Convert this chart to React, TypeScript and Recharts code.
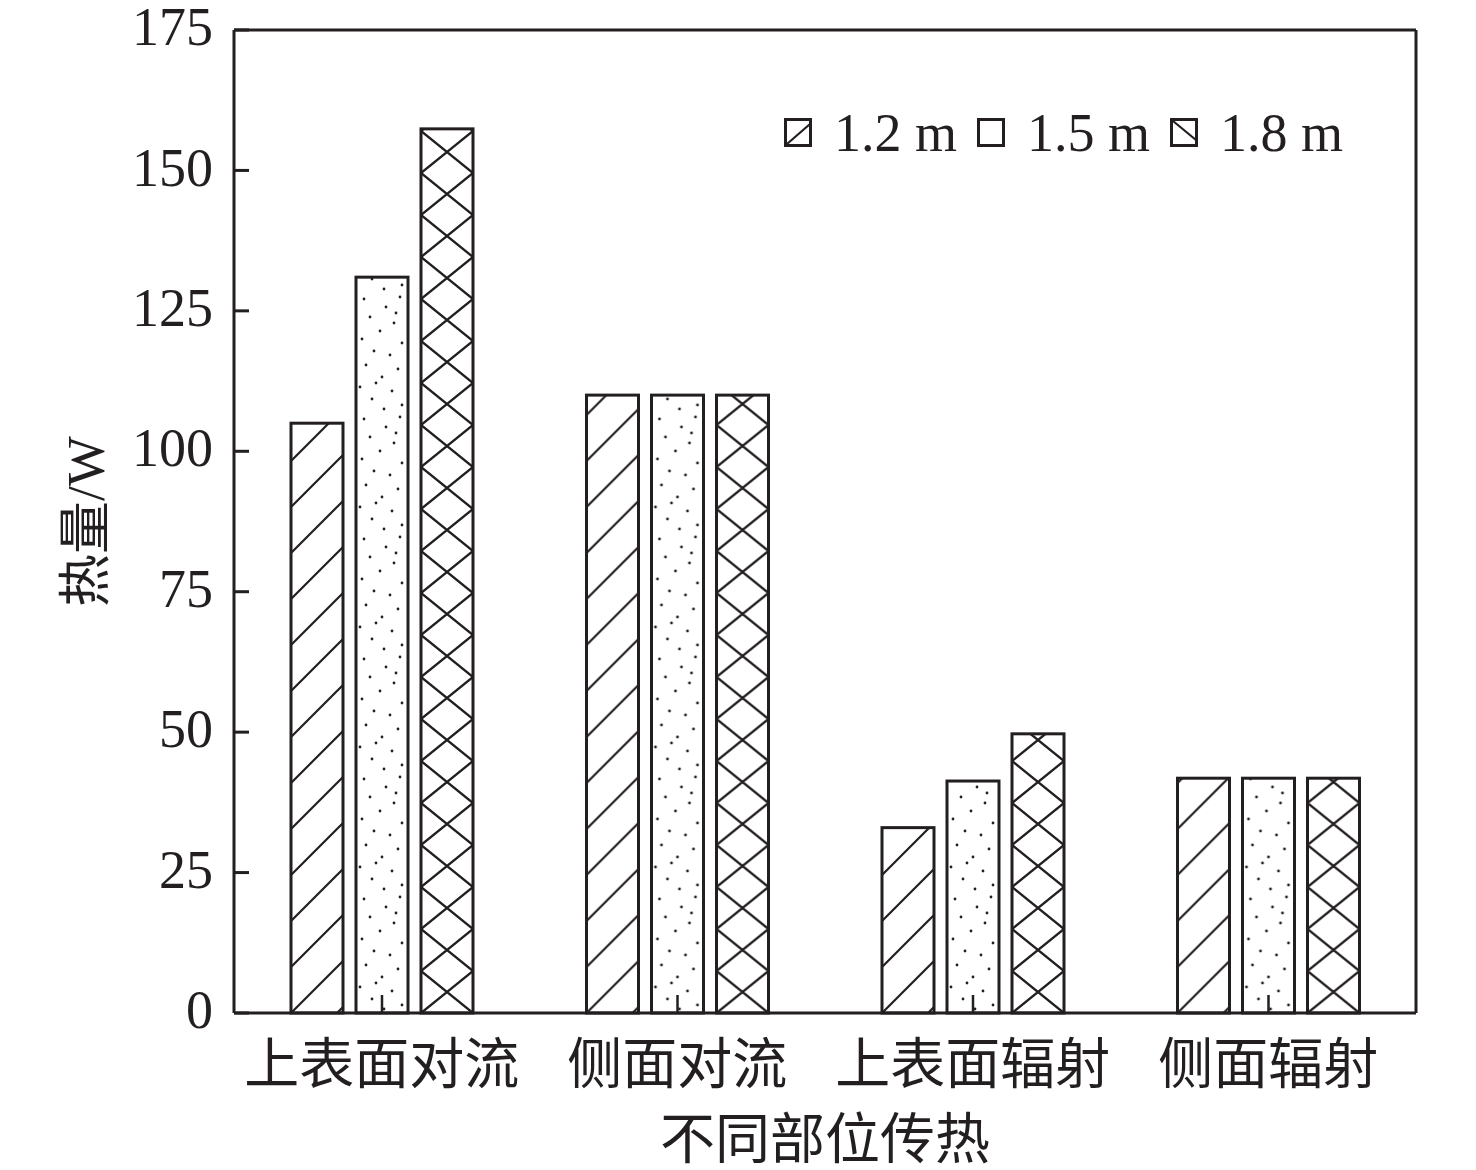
import React from 'react';
import { BarChart, Bar, XAxis, YAxis, Legend, Label, CartesianGrid } from 'recharts';

const categories = ['上表面对流', '侧面对流', '上表面辐射', '侧面辐射'];
const heat12 = [105, 110, 33, 41.8];
const heat15 = [131, 110, 41.3, 41.8];
const heat18 = [157.4, 110, 49.7, 41.8];
const yTicks = [0, 25, 50, 75, 100, 125, 150, 175];
const seriesNames = ['1.2 m', '1.5 m', '1.8 m'];

const data = categories.map((name, i) => ({
    name,
    h12: heat12[i],
    h15: heat15[i],
    h18: heat18[i],
}));

const INK = '#231f20';
const SERIF = '"Liberation Serif", "Noto Sans CJK SC", serif';

// irregular dot layout inside one pattern tile (decoration only)
const dotTile = [
    [8, 6], [30, 14], [44, 4], [14, 24], [38, 30], [24, 38], [6, 46], [46, 50],
    [18, 58], [34, 62], [10, 72], [42, 76], [26, 84], [4, 94], [36, 98], [16, 106],
    [46, 112], [28, 116], [40, 20], [20, 90],
];

type Kind = 'diag' | 'dots' | 'cross';

const makePattern = (kind: Kind, id: string, x: number, y: number) => {
    if (kind === 'diag') {
        return (
            <pattern id={id} patternUnits="userSpaceOnUse" x={x} y={y} width={46} height={46}>
                <path
                    d="M0,46 L46,0 M-23,23 L23,-23 M23,69 L69,23"
                    stroke={INK}
                    strokeWidth={2.2}
                />
            </pattern>
        );
    }
    if (kind === 'cross') {
        return (
            <pattern id={id} patternUnits="userSpaceOnUse" x={x} y={y} width={52} height={42}>
                <path d="M0,0 L52,42 M0,42 L52,0" stroke={INK} strokeWidth={2.4} />
            </pattern>
        );
    }
    return (
        <pattern id={id} patternUnits="userSpaceOnUse" x={x} y={y} width={52} height={120}>
            {dotTile.map(([cx, cy], i) => (
                <circle key={i} cx={cx} cy={cy} r={1.4} fill={INK} />
            ))}
        </pattern>
    );
};

const makeShape = (kind: Kind) => (props: any) => {
    const { x, y, width, height, index } = props;
    const id = `${kind}-bar-${index}`;
    return (
        <g>
            <defs>{makePattern(kind, id, x, y + height)}</defs>
            <rect
                x={x}
                y={y}
                width={width}
                height={height}
                fill={`url(#${id})`}
                stroke={INK}
                strokeWidth={3}
            />
            {kind === 'dots' && (
                <line
                    x1={x + width / 2}
                    x2={x + width / 2}
                    y1={y + height}
                    y2={y + height - 18}
                    stroke={INK}
                    strokeWidth={2.5}
                />
            )}
        </g>
    );
};

const YTick = ({ x, y, payload }: any) => (
    <g>
        <line x1={x} x2={x + 15} y1={y} y2={y} stroke={INK} strokeWidth={3} />
        <text
            x={x - 21}
            y={y}
            dy="0.28em"
            textAnchor="end"
            fontSize={54}
            fontFamily={SERIF}
            fill={INK}
        >
            {payload.value}
        </text>
    </g>
);

const XTick = ({ x, y, payload }: any) => (
    <text
        x={x}
        y={y + 50}
        dy="0.36em"
        textAnchor="middle"
        fontSize={55}
        fontFamily={SERIF}
        fill={INK}
    >
        {payload.value}
    </text>
);

// small marks drawn in the legend squares
const legendMarks = ['M3,26 L26,6', '', 'M3,3 L26,22'];

const LegendBox = () => (
    <div style={{ display: 'flex', alignItems: 'center', fontFamily: SERIF, fontSize: 54, color: INK }}>
        {seriesNames.map((n, i) => (
            <div key={n} style={{ display: 'flex', alignItems: 'center', marginRight: 20 }}>
                <svg width={28} height={30} style={{ marginRight: 22 }}>
                    <rect x={1.5} y={1.5} width={25} height={26} fill="none" stroke={INK} strokeWidth={3} />
                    {legendMarks[i] && <path d={legendMarks[i]} stroke={INK} strokeWidth={2.2} />}
                </svg>
                <span style={{ lineHeight: 1 }}>{n}</span>
            </div>
        ))}
    </div>
);

const App = () => (
    <div style={{ position: 'absolute', left: 0, top: 0, background: '#fff' }}>
        <BarChart
            width={1476}
            height={1170}
            data={data}
            margin={{ top: 30, right: 60, left: 0, bottom: 0 }}
            barSize={52}
            barGap={13}
        >
            <CartesianGrid
                stroke={INK}
                strokeWidth={3}
                horizontalCoordinatesGenerator={({ offset }: any) => [offset.top]}
                verticalCoordinatesGenerator={({ offset }: any) => [offset.left + offset.width]}
            />
            <XAxis
                dataKey="name"
                height={157}
                tickLine={false}
                tickSize={0}
                tickMargin={0}
                tick={<XTick />}
                axisLine={{ stroke: INK, strokeWidth: 3 }}
                interval={0}
            >
                <Label
                    value="不同部位传热"
                    position="insideBottom"
                    offset={12}
                    style={{ fontSize: 55, fontFamily: SERIF, fill: INK }}
                />
            </XAxis>
            <YAxis
                width={234}
                domain={[0, 175]}
                ticks={yTicks}
                interval={0}
                tickLine={false}
                tickSize={0}
                tickMargin={0}
                tick={<YTick />}
                axisLine={{ stroke: INK, strokeWidth: 3 }}
            >
                <Label
                    content={({ viewBox }: any) => {
                        const cx = viewBox.x + 85;
                        const cy = viewBox.y + viewBox.height / 2;
                        return (
                            <text
                                x={cx}
                                y={cy}
                                transform={`rotate(-90 ${cx} ${cy})`}
                                textAnchor="middle"
                                dy="0.36em"
                                fontSize={53}
                                fontFamily={SERIF}
                                fill={INK}
                            >
                                热量/W
                            </text>
                        );
                    }}
                />
            </YAxis>
            <Legend
                layout="horizontal"
                verticalAlign="middle"
                align="center"
                content={<LegendBox />}
                wrapperStyle={{ position: 'absolute', left: 784, top: 106, width: 'auto', height: 'auto' }}
            />
            <Bar dataKey="h12" name={seriesNames[0]} shape={makeShape('diag')} isAnimationActive={false} />
            <Bar dataKey="h15" name={seriesNames[1]} shape={makeShape('dots')} isAnimationActive={false} />
            <Bar dataKey="h18" name={seriesNames[2]} shape={makeShape('cross')} isAnimationActive={false} />
        </BarChart>
    </div>
);

export default App;
